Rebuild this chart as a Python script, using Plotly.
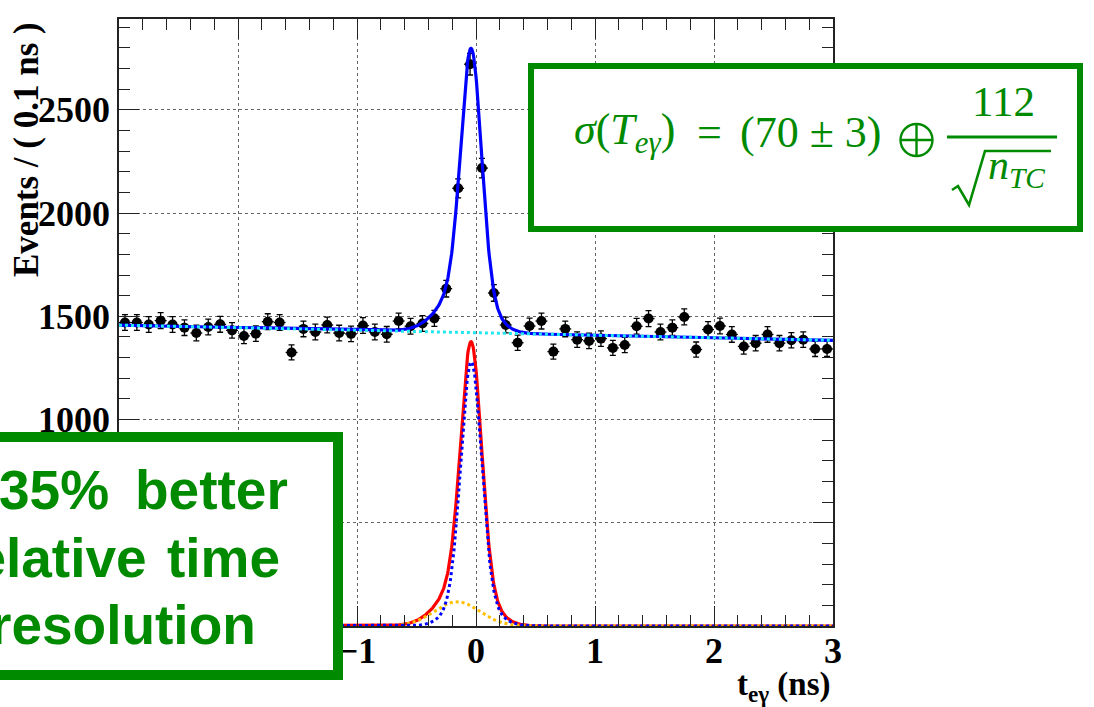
import numpy as np
import plotly.graph_objects as go

# ---- measured spectrum: events per 0.1 ns bin ----
bin_centers = np.round(np.arange(-2.95, 3.0, 0.1), 2)
counts = [
    1470, 1470, 1460, 1479, 1460, 1445, 1419, 1448, 1461, 1432,
    1405, 1416, 1474, 1470, 1325, 1439, 1424, 1458, 1419, 1415,
    1455, 1424, 1413, 1477, 1452, 1465, 1490, 1634, 2120, 2721,
    2218, 1613, 1458, 1372, 1453, 1477, 1329, 1439, 1387, 1381,
    1392, 1347, 1361, 1452, 1489, 1424, 1445, 1497, 1339, 1436,
    1453, 1412, 1354, 1370, 1412, 1370, 1384, 1387, 1342, 1342,
]
bin_half_width = 0.05

# ---- fit model parameters ----
bkg_offset = 1420.5      # flat accidental background at t = 0
bkg_slope = -12.2        # per ns
core_mean = -0.04
core_amp1, core_sigma1 = 1120.0, 0.085
core_amp2, core_sigma2 = 160.0, 0.16
tail_mean, tail_amp, tail_sigma = -0.16, 118.0, 0.19

x_ticks = [-3, -2, -1, 0, 1, 2, 3]
y_ticks = [0, 500, 1000, 1500, 2000, 2500]
x_range = [-3, 3]
y_range = [0, 2940]

GREEN = "#008a00"

t = np.linspace(-3, 3, 1201)
bkg = bkg_offset + bkg_slope * t
core = (core_amp1 * np.exp(-0.5 * ((t - core_mean) / core_sigma1) ** 2)
        + core_amp2 * np.exp(-0.5 * ((t - core_mean) / core_sigma2) ** 2))
tail = tail_amp * np.exp(-0.5 * ((t - tail_mean) / tail_sigma) ** 2)
signal = core + tail
total = bkg + signal

counts_arr = np.array(counts, dtype=float)

fig = go.Figure()

fig.add_trace(go.Scatter(
    x=bin_centers, y=counts_arr, mode="markers",
    marker=dict(color="black", size=10),
    error_y=dict(type="data", array=np.sqrt(counts_arr), color="black",
                 thickness=1.3, width=3),
    error_x=dict(type="constant", value=bin_half_width, color="black",
                 thickness=1.3, width=0),
    showlegend=False,
))

fig.add_trace(go.Scatter(x=t, y=total, mode="lines",
                         line=dict(color="#0000ff", width=3.2), showlegend=False))
fig.add_trace(go.Scatter(x=t, y=bkg, mode="lines",
                         line=dict(color="#22e6f2", width=3, dash="dot"), showlegend=False))
fig.add_trace(go.Scatter(x=t, y=signal, mode="lines",
                         line=dict(color="#ff0000", width=3.2), showlegend=False))
fig.add_trace(go.Scatter(x=t, y=tail, mode="lines",
                         line=dict(color="#ffbf00", width=3, dash="dot"), showlegend=False))
fig.add_trace(go.Scatter(x=t, y=core, mode="lines",
                         line=dict(color="#0000ff", width=3, dash="dot"), showlegend=False))

# ---- page geometry (pixels) ----
W, H = 1094, 707
L, R, T, B = 119, 833, 19, 626


def px(p):
    return (p - L) / (R - L)


def py(p):
    return (B - p) / (B - T)


axis_font = dict(family="Liberation Serif", size=36, color="black", weight="bold")

common_axis = dict(
    showline=True, linecolor="#222", linewidth=1.5, mirror="allticks",
    ticks="inside", ticklen=20, tickwidth=1.2, tickcolor="#222",
    showgrid=True, gridcolor="#666", griddash="dot", gridwidth=1,
    zeroline=False, tickfont=axis_font,
)

fig.update_xaxes(range=x_range, tickvals=x_ticks, ticklabelstandoff=-8,
                 minor=dict(dtick=0.2, tick0=-3, ticklen=11, tickwidth=1.2,
                            tickcolor="#222", ticks="inside", showgrid=False),
                 **common_axis)
fig.update_yaxes(range=y_range, tickvals=y_ticks, ticklabelstandoff=0,
                 minor=dict(dtick=100, tick0=0, ticklen=11, tickwidth=1.2,
                            tickcolor="#222", ticks="inside", showgrid=False),
                 **common_axis)

shapes = []
annotations = []

# axis titles
annotations.append(dict(
    text="Events / ( 0.1 ns )", textangle=-90, x=px(27), y=py(150),
    xref="paper", yref="paper", xanchor="center", yanchor="middle", showarrow=False,
    font=dict(family="Liberation Serif", size=35, color="black", weight="bold"),
))
annotations.append(dict(
    text="t<sub>eγ</sub> (ns)", x=px(833), y=py(686),
    xref="paper", yref="paper", xanchor="right", yanchor="middle", showarrow=False,
    font=dict(family="Liberation Serif", size=33, color="black", weight="bold"),
))

# resolution formula box
shapes.append(dict(type="rect", xref="paper", yref="paper",
                   x0=px(531), x1=px(1080), y0=py(66), y1=py(229),
                   line=dict(color=GREEN, width=6), fillcolor="white", layer="above"))
serif = dict(family="Liberation Serif", size=44, color=GREEN)
mid_main = 148 - 0.35 * 44
annotations += [
    dict(text="<i>σ</i>(<i>T</i><sub><i>eγ</i></sub>)", x=px(572), y=py(mid_main),
         xanchor="left", font=serif),
    dict(text="=", x=px(709), y=py(mid_main), xanchor="center", font=serif),
    dict(text="(70 ± 3)", x=px(738), y=py(mid_main), xanchor="left", font=serif),
    dict(text="112", x=px(1003), y=py(117 - 0.35 * 43), xanchor="center",
         font=dict(family="Liberation Serif", size=43, color=GREEN)),
    dict(text="<i>n</i><sub><i>TC</i></sub>", x=px(986), y=py(183 - 0.35 * 42),
         xanchor="left", font=dict(family="Liberation Serif", size=42, color=GREEN)),
]
# direct-sum operator drawn as a circle with a cross
oplus_cx, oplus_cy, oplus_r = 916.5, 140.0, 16.0
shapes.append(dict(type="circle", xref="paper", yref="paper",
                   x0=px(oplus_cx - oplus_r), x1=px(oplus_cx + oplus_r),
                   y0=py(oplus_cy - oplus_r), y1=py(oplus_cy + oplus_r),
                   line=dict(color=GREEN, width=2.4), layer="above"))
shapes.append(dict(type="line", xref="paper", yref="paper",
                   x0=px(oplus_cx - oplus_r), x1=px(oplus_cx + oplus_r),
                   y0=py(oplus_cy), y1=py(oplus_cy),
                   line=dict(color=GREEN, width=2.4), layer="above"))
shapes.append(dict(type="line", xref="paper", yref="paper",
                   x0=px(oplus_cx), x1=px(oplus_cx),
                   y0=py(oplus_cy - oplus_r), y1=py(oplus_cy + oplus_r),
                   line=dict(color=GREEN, width=2.4), layer="above"))
# fraction bar and radical
shapes.append(dict(type="line", xref="paper", yref="paper",
                   x0=px(947), x1=px(1057), y0=py(137), y1=py(137),
                   line=dict(color=GREEN, width=3), layer="above"))
radical = "M {},{} L {},{} L {},{} L {},{} L {},{}".format(
    px(952), py(190), px(958), py(186), px(969), py(205),
    px(985), py(151), px(1051), py(151))
shapes.append(dict(type="path", xref="paper", yref="paper", path=radical,
                   line=dict(color=GREEN, width=2.6), layer="above"))

# improvement box
shapes.append(dict(type="rect", xref="paper", yref="paper",
                   x0=px(-60), x1=px(338), y0=py(437), y1=py(675),
                   line=dict(color=GREEN, width=10), fillcolor="white", layer="above"))
sans = dict(family="Liberation Sans", size=55, color=GREEN, weight="bold")
m = 0.35 * 55
annotations += [
    dict(text="35%", x=px(111), y=py(509 - m), xanchor="right", font=sans),
    dict(text="better", x=px(290), y=py(509 - m), xanchor="right", font=sans),
    dict(text="relative", x=px(149), y=py(577 - m), xanchor="right", font=sans),
    dict(text="time", x=px(282), y=py(577 - m), xanchor="right", font=sans),
    dict(text="resolution", x=px(258), y=py(644 - m), xanchor="right", font=sans),
]

for a in annotations:
    a.setdefault("xref", "paper")
    a.setdefault("yref", "paper")
    a.setdefault("yanchor", "middle")
    a["showarrow"] = False

fig.update_layout(
    width=W, height=H,
    margin=dict(l=L, r=W - R, t=T, b=H - B, pad=0),
    paper_bgcolor="white", plot_bgcolor="white",
    showlegend=False,
    shapes=shapes, annotations=annotations,
)

fig.write_html("out.html", config={"displayModeBar": False})
